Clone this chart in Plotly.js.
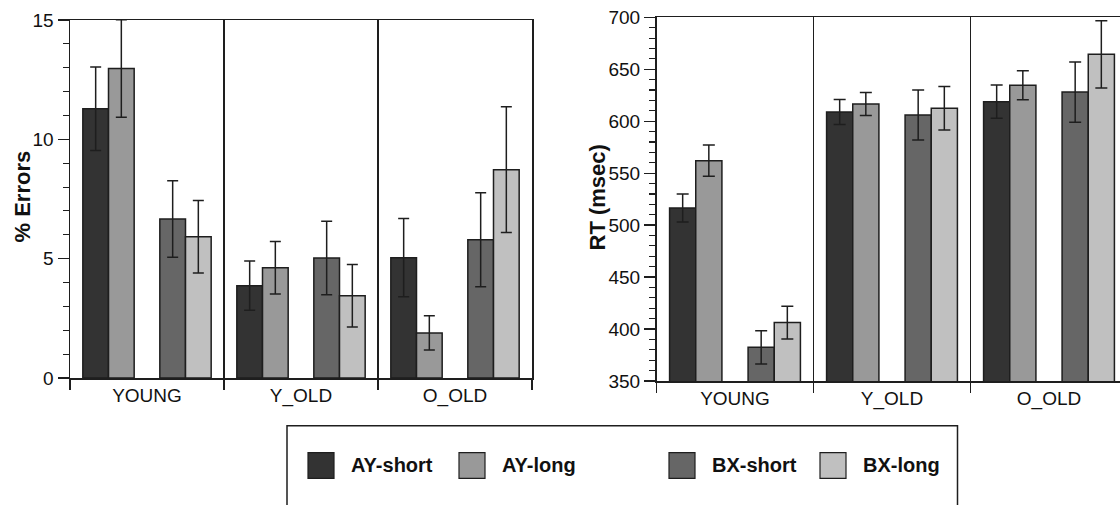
<!DOCTYPE html>
<html><head><meta charset="utf-8">
<script src="https://cdn.plot.ly/plotly-3.0.1.min.js"></script>
<style>html,body{margin:0;padding:0;overflow:hidden;background:#fff}#chart{width:1140px;height:505px}</style>
</head><body><div id="chart"></div>
<script>
// ---- data ----
const groups = ['YOUNG', 'Y_OLD', 'O_OLD'];
const seriesNames = ['AY-short', 'AY-long', 'BX-short', 'BX-long'];
const seriesColors = ['#333333', '#999999', '#666666', '#c0c0c0'];
const leftTitle = '% Errors';
const rightTitle = 'RT (msec)';

// % Errors (left panel)
const errAYshort = [11.28, 3.87, 5.04];
const errAYlong = [12.97, 4.62, 1.89];
const errBXshort = [6.66, 5.03, 5.79];
const errBXlong = [5.92, 3.45, 8.73];
const errAYshortSE = [1.75, 1.03, 1.64];
const errAYlongSE = [2.04, 1.10, 0.72];
const errBXshortSE = [1.60, 1.54, 1.97];
const errBXlongSE = [1.52, 1.31, 2.63];

// RT msec (right panel)
const rtAYshort = [516.5, 608.9, 618.8];
const rtAYlong = [562, 616.6, 634.6];
const rtBXshort = [382.4, 606, 628.1];
const rtBXlong = [406.2, 612.5, 664.4];
const rtAYshortSE = [13.4, 12, 16];
const rtAYlongSE = [15, 11, 14];
const rtBXshortSE = [16, 24, 29];
const rtBXlongSE = [15.7, 21, 32.4];

const errVals = [errAYshort, errAYlong, errBXshort, errBXlong];
const errSE = [errAYshortSE, errAYlongSE, errBXshortSE, errBXlongSE];
const rtVals = [rtAYshort, rtAYlong, rtBXshort, rtBXlong];
const rtSE = [rtAYshortSE, rtAYlongSE, rtBXshortSE, rtBXlongSE];

// ---- layout helpers ----
const W = 1140, H = 505;
const barW = 1 / 6;
const offsets = [-5 / 12, -3 / 12, 1 / 12, 3 / 12];
const ink = '#1e1e1e';
const FAM = 'Liberation Sans, Arial, Helvetica, sans-serif';
const tickFont = {family: FAM, size: 19, color: '#111'};
const boldFont = {family: FAM, size: 22, color: '#111', weight: 'bold'};

const traces = [];
seriesNames.forEach((name, i) => {
  traces.push({
    type: 'bar', name: name, x: groups, y: errVals[i], xaxis: 'x', yaxis: 'y',
    offset: offsets[i], width: barW, showlegend: false,
    marker: {color: seriesColors[i], line: {color: ink, width: 1.5}},
    error_y: {type: 'data', array: errSE[i], color: ink, thickness: 1.5, width: 5.5}
  });
  traces.push({
    type: 'bar', name: name, x: groups, y: rtVals[i], xaxis: 'x2', yaxis: 'y2',
    offset: offsets[i], width: barW, showlegend: false,
    marker: {color: seriesColors[i], line: {color: ink, width: 1.5}},
    error_y: {type: 'data', array: rtSE[i], color: ink, thickness: 1.5, width: 6}
  });
});

function xAxis(dom, anchor) {
  return {
    domain: dom, anchor: anchor, type: 'category', categoryorder: 'array', categoryarray: groups,
    range: [-0.5, 2.5], tickson: 'boundaries', ticks: 'outside', ticklen: 10, tickwidth: 1.3, tickcolor: ink,
    showgrid: true, gridcolor: ink, gridwidth: 1.3, showline: true, linecolor: ink, linewidth: 1.5,
    mirror: true, tickfont: tickFont, fixedrange: true, zeroline: false
  };
}
function yAxis(dom, anchor, range, dtick, minor) {
  return {
    domain: dom, anchor: anchor, range: range, tick0: range[0], dtick: dtick,
    ticks: 'outside', ticklen: 11, tickwidth: 1.3, tickcolor: ink,
    minor: {dtick: minor, tick0: range[0], ticks: 'outside', ticklen: 6, tickwidth: 1.1, tickcolor: ink, showgrid: false},
    showline: true, linecolor: ink, linewidth: 1.5, mirror: true, showgrid: false, zeroline: false,
    tickfont: tickFont, fixedrange: true
  };
}

const shapes = [];
const annotations = [];
// axis titles
annotations.push({xref: 'paper', yref: 'paper', x: 22 / W, y: (H - 196.5) / H, xanchor: 'center', yanchor: 'middle',
  textangle: -90, text: leftTitle, showarrow: false, font: boldFont});
annotations.push({xref: 'paper', yref: 'paper', x: 597 / W, y: (H - 197.5) / H, xanchor: 'center', yanchor: 'middle',
  textangle: -90, text: rightTitle, showarrow: false, font: boldFont});
// legend frame (bottom cut off by the image edge)
shapes.push({type: 'rect', xref: 'paper', yref: 'paper', x0: 287 / W, x1: 957.5 / W, y0: -0.2, y1: (H - 425.7) / H,
  line: {color: ink, width: 1.5}, fillcolor: 'rgba(0,0,0,0)'});
const legX = [308, 459, 669, 820];
seriesNames.forEach((name, i) => {
  shapes.push({type: 'rect', xref: 'paper', yref: 'paper', x0: legX[i] / W, x1: (legX[i] + 26) / W,
    y0: (H - 478.3) / H, y1: (H - 452.7) / H, line: {color: ink, width: 1.2}, fillcolor: seriesColors[i]});
  annotations.push({xref: 'paper', yref: 'paper', x: (legX[i] + 41) / W, y: (H - 465) / H, xanchor: 'left', yanchor: 'middle',
    text: name, showarrow: false, font: {family: FAM, size: 20, color: '#111', weight: 'bold'}});
});

const layout = {
  width: W, height: H, margin: {l: 0, r: 0, t: 0, b: 0}, paper_bgcolor: '#fff', plot_bgcolor: '#fff',
  barmode: 'overlay', showlegend: false,
  xaxis: xAxis([70 / W, 532 / W], 'y'),
  yaxis: yAxis([(H - 378) / H, (H - 20) / H], 'x', [0, 15], 5, 1),
  xaxis2: xAxis([656.5 / W, 1127.5 / W], 'y2'),
  yaxis2: yAxis([(H - 381) / H, (H - 17.3) / H], 'x2', [350, 700], 50, 10),
  shapes: shapes, annotations: annotations
};

Plotly.newPlot('chart', traces, layout, {staticPlot: true, displayModeBar: false});
</script>
</body></html>
